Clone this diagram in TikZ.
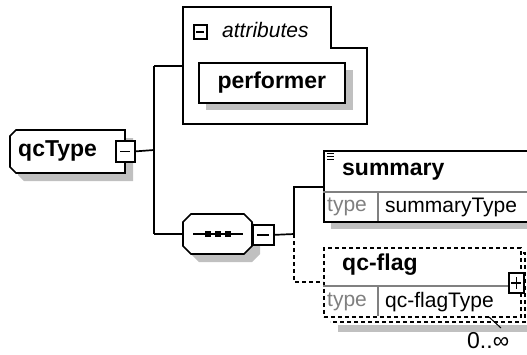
\documentclass[tikz,border=0pt]{standalone}
\usepackage{fontspec}
\setmainfont{Liberation Sans}
\definecolor{shadowgray}{RGB}{192,192,192}
\definecolor{typegray}{RGB}{128,128,128}
\begin{document}
\begin{tikzpicture}[x=1pt,y=-1pt, line join=miter,
  edge/.style={line width=1.7pt},
  dedge/.style={line width=1.7pt, dash pattern=on 4pt off 3pt},
  outline/.style={draw, line width=1.7pt, fill=white},
  shadowfill/.style={fill=shadowgray, draw=none},
  btext/.style={font=\fontsize{23}{26}\selectfont\bfseries, inner sep=0pt},
  rtext/.style={font=\fontsize{21}{24}\selectfont, inner sep=0pt},
  gtext/.style={rtext, text=typegray},
  sqbox/.style={draw, line width=1.7pt, fill=white, inner sep=0pt},
  divider/.style={draw=typegray, line width=1.2pt},
]
\useasboundingbox (0,0) rectangle (527,354);

% ---------- qcType ----------
\fill[shadowfill] (24,138) -- (133,138) -- (133,181) -- (24,181) -- (18,175) -- (18,144) -- cycle;
\draw[outline] (16,130) -- (125,130) -- (125,173) -- (16,173) -- (10,167) -- (10,136) -- cycle;
\node[btext, anchor=west] (qct) at (18,151) {qcType};
\node[sqbox, minimum width=19pt, minimum height=21pt, anchor=north west] (qcm) at (115,140) {};
\draw[edge] ([xshift=-5pt]qcm.center) -- ([xshift=5pt]qcm.center);

% ---------- attributes ----------
\draw[outline] (183,7) -- (331,7) -- (331,48) -- (367,48) -- (367,124) -- (183,124) -- cycle;
\coordinate (attrL) at (183,66);
\node[sqbox, minimum width=13pt, minimum height=14pt, anchor=north west] (am) at (193,24) {};
\draw[edge] ([xshift=-4pt]am.center) -- ([xshift=4pt]am.center);
\node[rtext, font=\fontsize{21}{24}\selectfont\itshape, anchor=west] (attrt) at (222,30) {attributes};
\fill[shadowfill] (206,70) rectangle (353,110);
\node[outline, btext, minimum width=146pt, minimum height=40pt, anchor=north west] (perf) at (198,62) {performer};

% ---------- sequence ----------
\fill[shadowfill] (199,222) -- (252,222) -- (260,230) -- (260,254) -- (252,262) -- (199,262) -- (191,254) -- (191,230) -- cycle;
\draw[outline] (191,214) -- (244,214) -- (252,222) -- (252,246) -- (244,254) -- (191,254) -- (183,246) -- (183,222) -- cycle;
\node[minimum width=69pt, minimum height=40pt, inner sep=0pt] (seq) at (217.5,234) {};
\draw[edge] (193,234) -- (243,234);
\foreach \xx in {208,218,228} \fill (\xx-3,231) rectangle (\xx+3,237);
\node[sqbox, minimum width=21pt, minimum height=20pt, anchor=north west] (sm) at (252,224) {};
\draw[edge] ([xshift=-6pt]sm.center) -- ([xshift=6pt]sm.center);

% ---------- summary ----------
\fill[shadowfill] (331,221) rectangle (540,229);
\node[outline, minimum width=212pt, minimum height=71pt, anchor=north west] (sum) at (323,150) {};
\draw[divider] (323,192) -- (535,192);
\draw[divider] (378,192) -- (378,221);
\draw[line width=0.9pt] (327,153) -- (334,153) (327,156) -- (334,156) (327,159) -- (334,159);
\node[btext, anchor=west] (sumt) at (342,172) {summary};
\node[gtext, anchor=west] (sumty) at (327,207) {type};
\node[rtext, anchor=west] (sumtv) at (385,207) {summaryType};

% ---------- qc-flag ----------
\fill[shadowfill] (338,325) rectangle (530,332);
\draw[dedge] (516,253) -- (525,253) -- (525,322) -- (330,322);
\fill[white] (323,247) rectangle (520,316);
\node[draw, dedge, minimum width=197pt, minimum height=69pt, anchor=north west] (qcf) at (323,247) {};
\draw[divider] (323,286) -- (508,286);
\draw[divider] (378,286) -- (378,316);
\node[btext, anchor=west] (qcft) at (342,265) {qc-flag};
\node[gtext, anchor=west] (qcfty) at (327,302) {type};
\node[rtext, anchor=west] (qcftv) at (385,302) {qc-flagType};
\node[sqbox, minimum width=15pt, minimum height=20pt, anchor=north west] (qp) at (508,272) {};
\draw[edge] ([xshift=-5pt]qp.center) -- ([xshift=5pt]qp.center)
            ([yshift=-6pt]qp.center) -- ([yshift=6pt]qp.center);
\coordinate (occ) at (489,317);
\draw[line width=1pt] (occ) -- ++(12,11);
\node[rtext, font=\fontsize{23}{26}\selectfont, anchor=west] (occt) at (467,341) {0..\char"221E};

% ---------- connectors ----------
\coordinate (j1) at (154,150);
\coordinate (ja) at (154,66);
\coordinate (jb) at (154,234);
\draw[edge] (qcm.east) -- (j1);
\draw[edge] (ja) -- (jb);
\draw[edge] (ja) -- (attrL);
\draw[edge] (jb) -- (seq.west);
\coordinate (k) at (294,234);
\coordinate (ks) at (294,187);
\coordinate (kq) at (294,282);
\draw[edge] (sm.east) -- (k);
\draw[edge] (k) -- (ks) -- (ks -| sum.west);
\draw[dedge] (k) -- (kq) -- (kq -| qcf.west);
\end{tikzpicture}
\end{document}
